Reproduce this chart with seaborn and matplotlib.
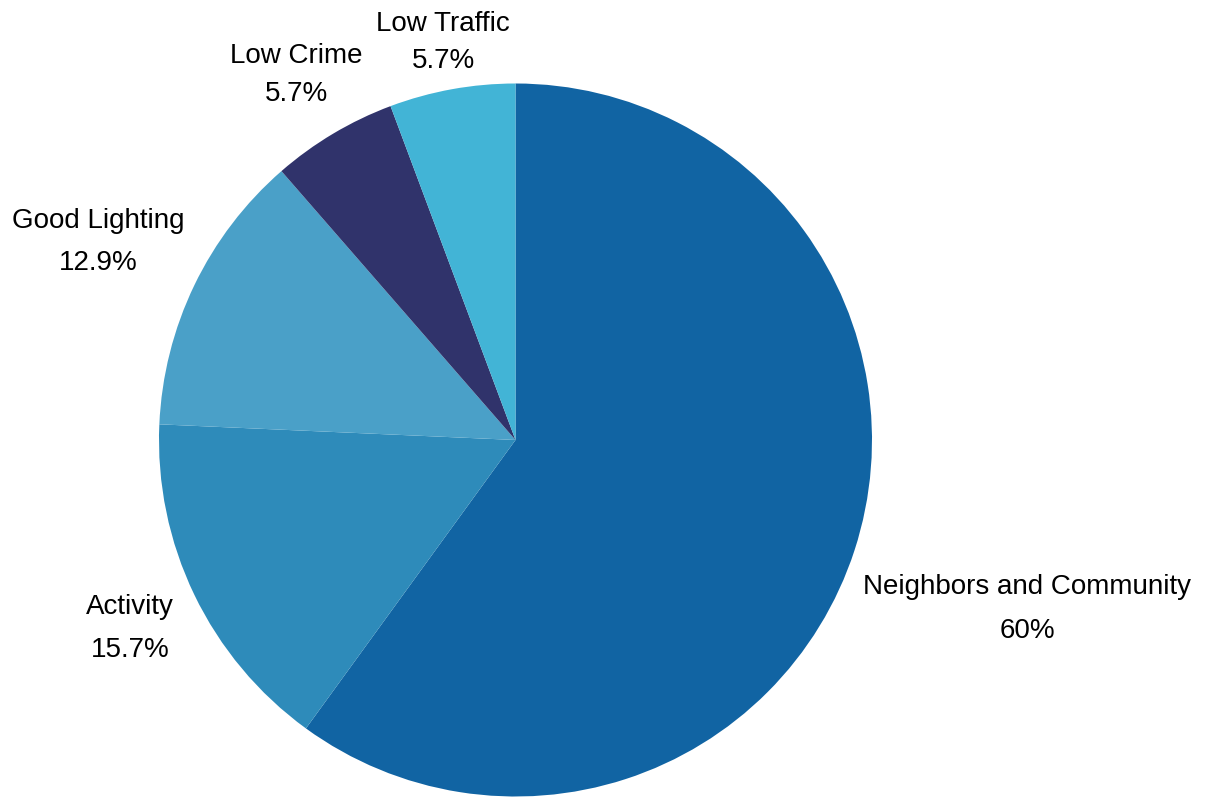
import numpy as np
import matplotlib
matplotlib.use("Agg")
import matplotlib.pyplot as plt
import seaborn as sns

categories = ["Neighbors and Community", "Activity", "Good Lighting", "Low Crime", "Low Traffic"]
shares = [60.0, 15.7, 12.9, 5.7, 5.7]
pct_labels = ["60%", "15.7%", "12.9%", "5.7%", "5.7%"]
slice_colors = ["#1164A3", "#2E8BBA", "#4AA0C8", "#30336B", "#42B4D6"]
# radial distance of each label (in pie radii) and the gap between its two lines
label_dist = [1.51, 1.20, 1.30, 1.20, 1.14]
label_spacing = [1.88, 1.84, 1.80, 1.58, 1.56]

sns.set_theme(style="white")
plt.rcParams["font.family"] = ["Liberation Sans", "DejaVu Sans"]

W, H = 1212, 798
fig = plt.figure(figsize=(W / 100, H / 100), dpi=100)
cx, cy, r = 515.5, 440, 356.5
ax = fig.add_axes([(cx - r) / W, (H - cy - r) / H, 2 * r / W, 2 * r / H])

wedges, _ = ax.pie(shares, colors=slice_colors, startangle=90, counterclock=False,
                   radius=1.0, wedgeprops=dict(linewidth=0))
ax.set_xlim(-1, 1)
ax.set_ylim(-1, 1)
ax.set_aspect("equal")
ax.axis("off")

for w, name, pct, d, ls in zip(wedges, categories, pct_labels, label_dist, label_spacing):
    mid = np.deg2rad((w.theta1 + w.theta2) / 2)
    x, y = d * np.cos(mid), d * np.sin(mid)
    ax.annotate(f"{name}\n{pct}", xy=(x, y), xytext=(0, -2), textcoords="offset points",
                ha="center", va="center", fontsize=20, color="black",
                linespacing=ls, annotation_clip=False)

fig.savefig("out.png", dpi=100)
